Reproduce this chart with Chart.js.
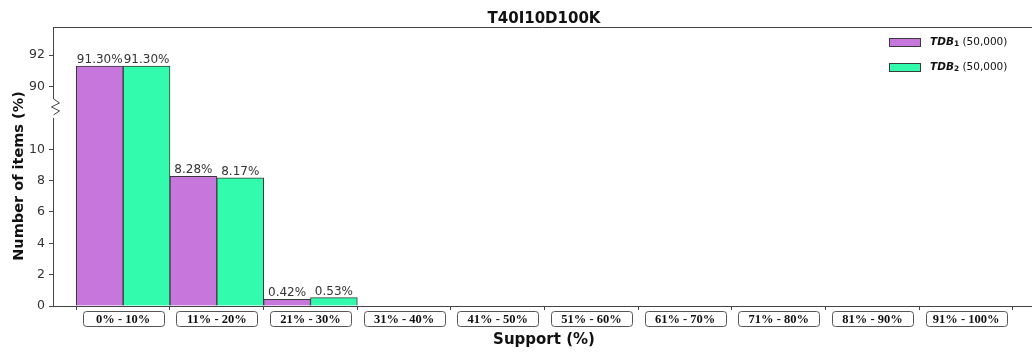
<!DOCTYPE html>
<html>
<head>
<meta charset="utf-8">
<script src="https://cdn.jsdelivr.net/npm/chart.js@4/dist/chart.umd.min.js"></script>
<style>
  body { margin: 0; background: #fff; }
  #wrap { width: 1032px; height: 352px; }
</style>
</head>
<body>
<div id="wrap"><canvas id="chart"></canvas></div>
<script>
const categories = ['0% - 10%', '11% - 20%', '21% - 30%', '31% - 40%', '41% - 50%',
                    '51% - 60%', '61% - 70%', '71% - 80%', '81% - 90%', '91% - 100%'];
const tdb1 = [91.30, 8.28, 0.42, 0, 0, 0, 0, 0, 0, 0];
const tdb2 = [91.30, 8.17, 0.53, 0, 0, 0, 0, 0, 0, 0];
const seriesSubs  = ['1', '2'];
const seriesSizes = ['(50,000)', '(50,000)'];
const yTicks = [0, 2, 4, 6, 8, 10, 90, 92];
const title  = 'T40I10D100K';
const xTitle = 'Support (%)';
const yTitle = 'Number of items (%)';

const COLORS = ['#c777dc', '#33fbae'];
const EDGE = '#3a3a3a';
const SANS = 'DejaVu Sans';

// broken y axis: values above the gap are pulled down by SHIFT
const SHIFT = 76;
const squash = v => v > 50 ? v - SHIFT : v;
const GAP_AT = 12.7;

const toPoints = arr => arr.map((v, i) => ({x: i, y: squash(v), raw: v}));

const decor = {
  id: 'decor',
  afterDraw(chart) {
    const {ctx, chartArea: a, scales: {x, y}} = chart;
    ctx.save();

    // top line + broken left spine
    ctx.strokeStyle = '#444'; ctx.lineWidth = 1;
    const sx = a.left + 0.5, brk = y.getPixelForValue(GAP_AT);
    ctx.beginPath();
    ctx.moveTo(a.left, a.top + 0.5); ctx.lineTo(a.right, a.top + 0.5);
    ctx.moveTo(sx, a.top); ctx.lineTo(sx, brk - 8);
    ctx.lineTo(sx + 6, brk - 4); ctx.lineTo(sx - 2, brk);
    ctx.lineTo(sx + 6, brk + 4); ctx.lineTo(sx, brk + 8);
    ctx.moveTo(sx, brk + 11); ctx.lineTo(sx, a.bottom);
    ctx.stroke();

    // value labels on bars
    ctx.font = `12px "${SANS}"`;
    ctx.fillStyle = '#333'; ctx.textAlign = 'center'; ctx.textBaseline = 'alphabetic';
    chart.data.datasets.forEach((ds, di) => {
      chart.getDatasetMeta(di).data.forEach((bar, j) => {
        const v = ds.data[j].raw;
        if (v > 0) ctx.fillText(v.toFixed(2) + '%', bar.x, bar.y - 3);
      });
    });

    // boxed category labels
    ctx.font = 'bold 12.5px "Liberation Serif"';
    ctx.textBaseline = 'middle';
    categories.forEach((c, i) => {
      const cx = x.getPixelForValue(i);
      ctx.beginPath();
      ctx.roundRect(Math.round(cx - 40.5) + 0.5, 311.5, 81, 15, 3);
      ctx.fillStyle = '#fff'; ctx.fill();
      ctx.strokeStyle = '#555'; ctx.stroke();
      ctx.fillStyle = '#111';
      ctx.fillText(c, cx, 319.5);
    });

    // legend
    seriesSubs.forEach((s, i) => {
      const cy = 42.5 + i * 25;
      ctx.fillStyle = COLORS[i]; ctx.strokeStyle = EDGE;
      ctx.fillRect(889.5, cy - 4, 31, 8); ctx.strokeRect(889.5, cy - 4, 31, 8);
      ctx.textAlign = 'left'; ctx.fillStyle = '#111';
      let tx = 930;
      ctx.font = `italic bold 10.5px "${SANS}"`;
      ctx.fillText('TDB', tx, cy); tx += ctx.measureText('TDB').width;
      ctx.font = `bold 7.5px "${SANS}"`;
      ctx.fillText(s, tx, cy + 2); tx += ctx.measureText(s).width;
      ctx.font = `10.5px "${SANS}"`;
      ctx.fillText(' ' + seriesSizes[i], tx, cy);
    });

    // titles
    ctx.fillStyle = '#111'; ctx.textAlign = 'center'; ctx.textBaseline = 'alphabetic';
    ctx.font = `bold 15px "${SANS}"`;
    ctx.fillText(title, 544, 23);
    ctx.fillText(xTitle, 544, 344);
    ctx.font = `bold 14.5px "${SANS}"`;
    ctx.translate(23, 176); ctx.rotate(-Math.PI / 2);
    ctx.fillText(yTitle, 0, 0);
    ctx.restore();
  }
};

new Chart(document.getElementById('chart'), {
  type: 'bar',
  data: {
    datasets: [
      { label: 'TDB1', data: toPoints(tdb1), backgroundColor: COLORS[0], borderColor: EDGE, borderWidth: 1 },
      { label: 'TDB2', data: toPoints(tdb2), backgroundColor: COLORS[1], borderColor: EDGE, borderWidth: 1 }
    ]
  },
  options: {
    responsive: true, maintainAspectRatio: false, animation: false,
    layout: { padding: { top: 27, left: 0, right: 0, bottom: 0 } },
    datasets: { bar: { barPercentage: 1, categoryPercentage: 1 } },
    plugins: { legend: { display: false }, title: { display: false }, tooltip: { enabled: false } },
    scales: {
      x: {
        type: 'linear', offset: false, min: -0.749, max: 9.703,
        afterBuildTicks: s => { s.ticks = categories.map((_, i) => ({value: i})); },
        afterFit: s => { s.height = 46; },
        ticks: { display: false },
        grid: { offset: true, drawOnChartArea: false, tickLength: 4, color: '#444' },
        border: { color: '#444', width: 1 }
      },
      y: {
        min: 0, max: 17.8,
        afterBuildTicks: s => { s.ticks = yTicks.map(v => ({value: squash(v)})); },
        afterFit: s => { s.width = 53; },
        ticks: { callback: (v, i) => yTicks[i], color: '#333', padding: 4, font: { family: SANS, size: 12.5 } },
        grid: { drawOnChartArea: false, tickLength: 4, color: '#444' },
        border: { display: false }
      }
    }
  },
  plugins: [decor]
});
</script>
</body>
</html>
